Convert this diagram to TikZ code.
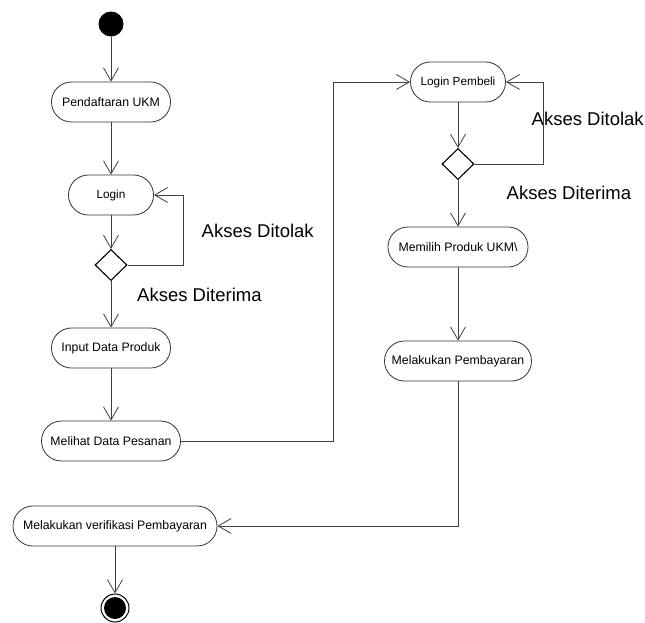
\documentclass[tikz,border=0pt]{standalone}
\usepackage{fontspec}
\setmainfont{Liberation Sans}
\usetikzlibrary{arrows.meta,shapes.geometric}
\tikzset{
  act/.style={draw=black!80, line width=0.8pt, rectangle, rounded corners=19.9pt, minimum height=40pt, inner xsep=4pt, font=\fontsize{12.3}{14}\selectfont},
  dec/.style={draw=black, line width=1.1pt, diamond, minimum width=32pt, minimum height=31pt, inner sep=0pt},
  arr/.style={draw=black!75, line width=0.8pt, -{Straight Barb[length=13pt,width=15pt]}},
  lab/.style={anchor=west, inner sep=0pt, font=\fontsize{18.5}{22}\selectfont},
}
\begin{document}
\begin{tikzpicture}[x=1pt,y=-1pt]
\useasboundingbox (0,0) rectangle (645,622);
% start
\node[circle, fill=black, minimum size=25pt, inner sep=0pt] (start) at (111,24) {};
% left column
\node[act, minimum width=119pt] (pend) at (111,102) {Pendaftaran UKM};
\node[act, minimum width=85pt, font=\fontsize{11.8}{14}\selectfont] (login) at (111,195) {Login};
\node[dec] (d1) at (111,265) {};
\node[act, minimum width=119pt] (input) at (111,348) {Input Data Produk};
\node[act, minimum width=139pt] (melihat) at (111,441) {Melihat Data Pesanan};
% right column
\node[act, minimum width=95pt, font=\fontsize{11.8}{14}\selectfont] (loginp) at (458,82) {Login Pembeli};
\node[dec] (d2) at (458,164) {};
\node[act, minimum width=140pt] (memilih) at (458,247) {Memilih Produk UKM\textbackslash};
\node[act, minimum width=147pt] (bayar) at (458,361) {Melakukan Pembayaran};
% bottom
\node[act, minimum width=204pt] (verif) at (115,526) {Melakukan verifikasi Pembayaran};
\node[circle, draw=black, line width=1pt, minimum size=28pt, inner sep=0pt] (end) at (115,608) {};
\fill[black] (end.center) circle (11pt);
% labels
\node[lab] (l1) at (201.5,231) {Akses Ditolak};
\node[lab] (l2) at (137,295) {Akses Diterima};
\node[lab] (l3) at (531.5,119) {Akses Ditolak};
\node[lab] (l4) at (506.5,193) {Akses Diterima};
% connectors
\draw[arr] (start) -- (pend);
\draw[arr] (pend) -- (login);
\draw[arr] (login) -- (d1);
\draw[arr] (d1.east) -- ++(56,0) |- (login.east);
\draw[arr] (d1) -- (input);
\draw[arr] (input) -- (melihat);
\draw[arr] (melihat.east) -- (333,441) |- (loginp.west);
\draw[arr] (loginp) -- (d2);
\draw[arr] (d2.east) -- (543,164) |- (loginp.east);
\draw[arr] (d2) -- (memilih);
\draw[arr] (memilih) -- (bayar);
\draw[arr] (bayar.south) |- (verif.east);
\draw[arr] (verif) -- (end);
\end{tikzpicture}
\end{document}
